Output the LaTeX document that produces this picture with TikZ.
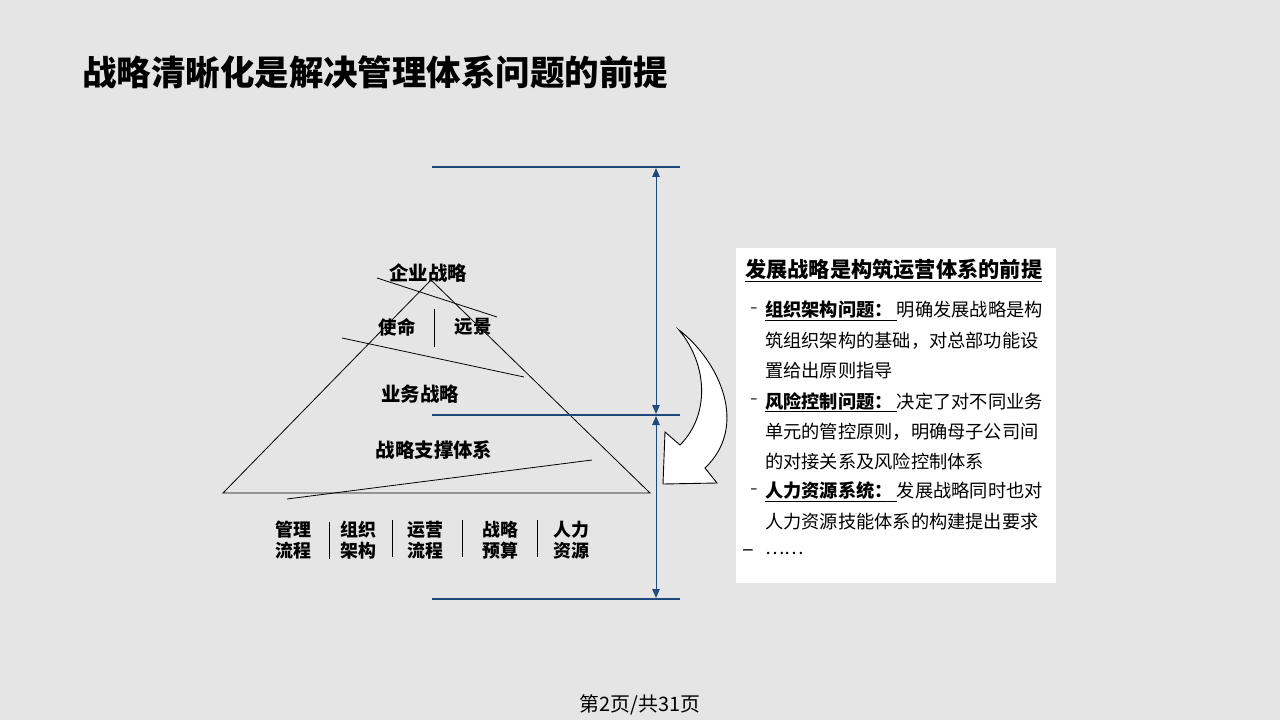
\documentclass[tikz,border=0pt]{standalone}
\usepackage{fontspec}
\setmainfont{Noto Sans CJK SC}
\usetikzlibrary{arrows.meta}
\definecolor{bg}{RGB}{229,229,229}
\definecolor{navy}{RGB}{31,73,125}
\tikzset{
 pyr/.style={draw=black, line width=0.8bp},
 dim/.style={draw=navy, line width=1.5bp},
 dimarrow/.style={draw=navy, line width=1bp, {Triangle[length=9bp,width=7.5bp]}-{Triangle[length=9bp,width=7.5bp]}},
 lab/.style={font=\fontsize{19.5}{22}\selectfont\bfseries, inner sep=0},
 small/.style={font=\fontsize{18}{21}\selectfont\bfseries, inner sep=0, align=center},
 boxtxt/.style={font=\fontsize{18.3}{22}\selectfont, inner sep=0, anchor=west},
 dashtxt/.style={font=\fontsize{22}{24}\selectfont, inner sep=0, text=black!70},
 sep/.style={draw=black, line width=0.8bp},
}
\begin{document}
\begin{tikzpicture}[x=1bp,y=-1bp]
\useasboundingbox (0,0) rectangle (1280,720);
\fill[bg] (0,0) rectangle (1280,720);

% title
\node[anchor=west, inner sep=0, font=\fontsize{34.6}{38}\selectfont\bfseries] (title) at (82,72) {战略清晰化是解决管理体系问题的前提};

% pyramid
\coordinate (apex) at (431,280);
\coordinate (bl) at (223,493);
\coordinate (br) at (650,493);
\draw[pyr] (apex) -- (bl) -- (br) -- cycle;
\coordinate (a1) at (377,278); \coordinate (a2) at (497,317);
\coordinate (b1) at (342,338); \coordinate (b2) at (524,377);
\coordinate (c1) at (287,499); \coordinate (c2) at (592,460);
\coordinate (v1) at (434,309); \coordinate (v2) at (434,347);
\draw[pyr] (a1) -- (a2);
\draw[pyr] (b1) -- (b2);
\draw[pyr] (c1) -- (c2);
\draw[pyr] (v1) -- (v2);

\node[lab] (qy) at (428,273) {企业战略};
\node[lab, font=\fontsize{18.5}{22}\selectfont\bfseries] (sm) at (397,327) {使命};
\node[lab, font=\fontsize{18.5}{22}\selectfont\bfseries] (yj) at (473,327) {远景};
\node[lab] (yw) at (420,394) {业务战略};
\node[lab] (zc) at (434,450) {战略支撑体系};

% bottom labels
\node[small] (g1) at (293,540) {管理\\流程};
\node[small] (g2) at (358,540) {组织\\架构};
\node[small] (g3) at (425,540) {运营\\流程};
\node[small] (g4) at (500,540) {战略\\预算};
\node[small] (g5) at (571,540) {人力\\资源};
\coordinate (s1a) at (329,522); \coordinate (s1b) at (329,559);
\coordinate (s2a) at (392,520); \coordinate (s2b) at (392,557);
\coordinate (s3a) at (462,520); \coordinate (s3b) at (462,557);
\coordinate (s4a) at (537,520); \coordinate (s4b) at (537,557);
\draw[sep] (s1a) -- (s1b);
\draw[sep] (s2a) -- (s2b);
\draw[sep] (s3a) -- (s3b);
\draw[sep] (s4a) -- (s4b);

% dimension lines
\coordinate (h1a) at (432,167); \coordinate (h1b) at (680,167);
\coordinate (h2a) at (432,415); \coordinate (h2b) at (680,415);
\coordinate (h3a) at (432,599); \coordinate (h3b) at (680,599);
\draw[dim] (h1a) -- (h1b);
\draw[dim] (h2a) -- (h2b);
\draw[dim] (h3a) -- (h3b);
\coordinate (d1) at (656,168); \coordinate (d2) at (656,414);
\coordinate (d3) at (656,416); \coordinate (d4) at (656,598);
\draw[dimarrow] (d1) -- (d2);
\draw[dimarrow] (d3) -- (d4);

% curved arrow
\coordinate (S) at (679,330);
\coordinate (O) at (705,468);
\coordinate (R) at (717,483);
\coordinate (T) at (663,484);
\coordinate (L) at (665,432);
\coordinate (I) at (680,445);
\draw[fill=white, draw=black, line width=0.9bp, line join=miter]
  (S) .. controls (718,360) and (750,425) .. (O) -- (R) -- (T) -- (L) -- (I)
  .. controls (710,415) and (708,365) .. (S) -- cycle;

% text box
\coordinate (bx1) at (736,248);
\coordinate (bx2) at (1056,583);
\fill[white] (bx1) rectangle (bx2);
\node[anchor=west, inner sep=0, font=\fontsize{21.3}{24}\selectfont\bfseries] (hd) at (745,270) {\underline{发展战略是构筑运营体系的前提}};

\node[dashtxt] (m1) at (754,311) {-};
\node[dashtxt] (m4) at (754,402) {-};
\node[dashtxt] (m7) at (754,492) {-};
\node[dashtxt, text=black] (m9) at (748,553) {–};

\node[boxtxt] (l1) at (765,311) {\underline{\textbf{组织架构问题：}\ }明确发展战略是构};
\node[boxtxt] (l2) at (765,341) {筑组织架构的基础，对总部功能设};
\node[boxtxt] (l3) at (765,371) {置给出原则指导};
\node[boxtxt] (l4) at (765,402) {\underline{\textbf{风险控制问题：}\ }决定了对不同业务};
\node[boxtxt] (l5) at (765,432) {单元的管控原则，明确母子公司间};
\node[boxtxt] (l6) at (765,462) {的对接关系及风险控制体系};
\node[boxtxt] (l7) at (765,492) {\underline{\textbf{人力资源系统：}\ }发展战略同时也对};
\node[boxtxt] (l8) at (765,522) {人力资源技能体系的构建提出要求};
\node[boxtxt] (l9) at (765,553) {……};

% footer
\node[inner sep=0, font=\fontsize{20}{24}\selectfont] (ft) at (640,705) {第2页/共31页};
\end{tikzpicture}
\end{document}
